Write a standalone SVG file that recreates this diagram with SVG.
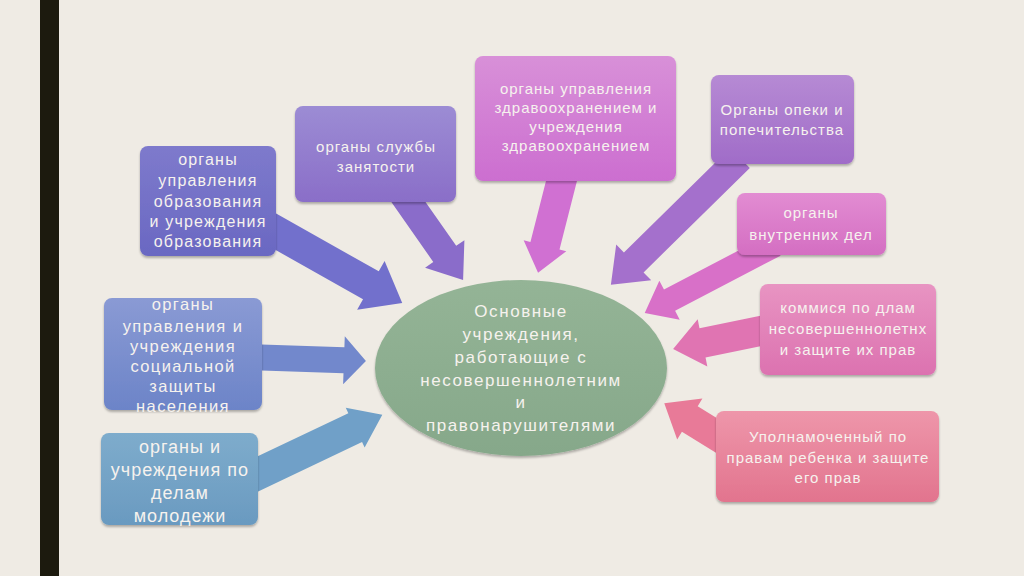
<svg xmlns="http://www.w3.org/2000/svg" width="1024" height="576" viewBox="0 0 1024 576">
<defs>
<style>
.t{font-family:"Liberation Sans","DejaVu Sans",sans-serif;fill:#f6f2ee;text-anchor:middle;}
.s15{font-size:15px;letter-spacing:1px}.s16{font-size:16px;letter-spacing:1.2px}.s16b{font-size:16.5px;letter-spacing:1.4px}.s17{font-size:17px;letter-spacing:1.6px}.s18{font-size:18px;letter-spacing:1px}
</style>
<filter id="sh" x="-10%" y="-10%" width="120%" height="130%"><feDropShadow dx="0" dy="2" stdDeviation="1.2" flood-color="#000" flood-opacity="0.28"/></filter>
<linearGradient id="g1" x1="0" y1="0" x2="0" y2="1"><stop offset="0" stop-color="#7e7acc"/><stop offset="1" stop-color="#6a68c2"/></linearGradient>
<linearGradient id="g2" x1="0" y1="0" x2="0" y2="1"><stop offset="0" stop-color="#9c8cd4"/><stop offset="1" stop-color="#8a6ec8"/></linearGradient>
<linearGradient id="g3" x1="0" y1="0" x2="0" y2="1"><stop offset="0" stop-color="#d890d8"/><stop offset="1" stop-color="#cc6ed0"/></linearGradient>
<linearGradient id="g4" x1="0" y1="0" x2="0" y2="1"><stop offset="0" stop-color="#b68ad4"/><stop offset="1" stop-color="#a06cc8"/></linearGradient>
<linearGradient id="g5" x1="0" y1="0" x2="0" y2="1"><stop offset="0" stop-color="#e28cd2"/><stop offset="1" stop-color="#d46ec2"/></linearGradient>
<linearGradient id="g6" x1="0" y1="0" x2="0" y2="1"><stop offset="0" stop-color="#e894c2"/><stop offset="1" stop-color="#dc72b0"/></linearGradient>
<linearGradient id="g7" x1="0" y1="0" x2="0" y2="1"><stop offset="0" stop-color="#ee96aa"/><stop offset="1" stop-color="#e2748e"/></linearGradient>
<linearGradient id="g8" x1="0" y1="0" x2="0" y2="1"><stop offset="0" stop-color="#8a9ad4"/><stop offset="1" stop-color="#6c84c8"/></linearGradient>
<linearGradient id="g9" x1="0" y1="0" x2="0" y2="1"><stop offset="0" stop-color="#7eaccc"/><stop offset="1" stop-color="#6a9ac0"/></linearGradient>
<linearGradient id="ge" x1="0" y1="0" x2="0" y2="1"><stop offset="0" stop-color="#94b496"/><stop offset="1" stop-color="#86a88a"/></linearGradient>
</defs>
<rect width="1024" height="576" fill="#efebe4"/>
<rect x="40" y="0" width="19" height="576" fill="#1c1a0e"/>
<g id="connectors">
<polygon points="0,-16 133,-16 133,-28 169,0 133,28 133,16 0,16" fill="#7270cc" transform="translate(255,220) rotate(29.4)"/>
<polygon points="0,-14 78,-14 78,-24 110,0 78,24 78,14 0,14" fill="#8a6cca" transform="translate(400,190) rotate(55)"/>
<polygon points="0,-15 73,-15 73,-22 101,0 73,22 73,15 0,15" fill="#d070d2" transform="translate(563,175) rotate(104.3)"/>
<polygon points="0,-14 149,-14 149,-25 181,0 149,25 149,14 0,14" fill="#a470cc" transform="translate(740,158) rotate(135.5)"/>
<polygon points="0,-12 119,-12 119,-22 147,0 119,22 119,12 0,12" fill="#d870c8" transform="translate(775,245) rotate(152.4)"/>
<polygon points="0,-15 74,-15 74,-24 104,0 74,24 74,15 0,15" fill="#e074b2" transform="translate(775,328) rotate(168.4)"/>
<polygon points="0,-15 59,-15 59,-24 89,0 59,24 59,15 0,15" fill="#e87a98" transform="translate(740,450) rotate(211.7)"/>
<polygon points="0,-13 94,-13 94,-24 116,0 94,24 94,13 0,13" fill="#7288cc" transform="translate(250,357) rotate(2)"/>
<polygon points="0,-16 122,-16 122,-22 152,0 122,22 122,16 0,16" fill="#70a0c8" transform="translate(245,480) rotate(-25.4)"/>
</g>
<g id="center">
<ellipse cx="521" cy="368" rx="146" ry="88" fill="url(#ge)" filter="url(#sh)"/>
<text class="t s17"><tspan x="521" y="317">Основные</tspan><tspan x="521" y="340">учреждения,</tspan><tspan x="521" y="363">работающие с</tspan><tspan x="521" y="386">несовершеннолетним</tspan><tspan x="521" y="408">и</tspan><tspan x="521" y="431">правонарушителями</tspan></text>
</g>
<g id="n1">
<rect x="140" y="146" width="136" height="110" rx="8" fill="url(#g1)" filter="url(#sh)"/>
<text class="t s16"><tspan x="208" y="165">органы</tspan><tspan x="208" y="186">управления</tspan><tspan x="208" y="207">образования</tspan><tspan x="208" y="227">и учреждения</tspan><tspan x="208" y="247">образования</tspan></text>
</g>
<g id="n2">
<rect x="295" y="106" width="161" height="96" rx="8" fill="url(#g2)" filter="url(#sh)"/>
<text class="t s15"><tspan x="376" y="152">органы службы</tspan><tspan x="376" y="172">занятости</tspan></text>
</g>
<g id="n3">
<rect x="475" y="56" width="201" height="125" rx="8" fill="url(#g3)" filter="url(#sh)"/>
<text class="t s15"><tspan x="576" y="94">органы управления</tspan><tspan x="576" y="113">здравоохранением  и</tspan><tspan x="576" y="132">учреждения</tspan><tspan x="576" y="151">здравоохранением</tspan></text>
</g>
<g id="n4">
<rect x="711" y="75" width="143" height="89" rx="8" fill="url(#g4)" filter="url(#sh)"/>
<text class="t s15"><tspan x="782" y="115">Органы опеки и</tspan><tspan x="782" y="135">попечительства</tspan></text>
</g>
<g id="n5">
<rect x="737" y="193" width="149" height="62" rx="8" fill="url(#g5)" filter="url(#sh)"/>
<text class="t s15"><tspan x="811" y="218">органы</tspan><tspan x="811" y="240">внутренних дел</tspan></text>
</g>
<g id="n6">
<rect x="760" y="284" width="176" height="91" rx="8" fill="url(#g6)" filter="url(#sh)"/>
<text class="t s15"><tspan x="848" y="313">коммися по длам</tspan><tspan x="848" y="334">несовершеннолетнх</tspan><tspan x="848" y="355">и защите их прав</tspan></text>
</g>
<g id="n7">
<rect x="716" y="411" width="223" height="91" rx="8" fill="url(#g7)" filter="url(#sh)"/>
<text class="t s15"><tspan x="828" y="442">Уполнамоченный по</tspan><tspan x="828" y="463">правам ребенка и защите</tspan><tspan x="828" y="483">его прав</tspan></text>
</g>
<g id="n8">
<rect x="104" y="298" width="158" height="112" rx="8" fill="url(#g8)" filter="url(#sh)"/>
<text class="t s16b"><tspan x="183" y="310">органы</tspan><tspan x="183" y="332">управления и</tspan><tspan x="183" y="352">учреждения</tspan><tspan x="183" y="372">социальной</tspan><tspan x="183" y="392">защиты</tspan><tspan x="183" y="412">населения</tspan></text>
</g>
<g id="n9">
<rect x="101" y="433" width="157" height="92" rx="8" fill="url(#g9)" filter="url(#sh)"/>
<text class="t s18"><tspan x="180" y="453">органы и</tspan><tspan x="180" y="476">учреждения по</tspan><tspan x="180" y="499">делам</tspan><tspan x="180" y="522">молодежи</tspan></text>
</g>
</svg>
